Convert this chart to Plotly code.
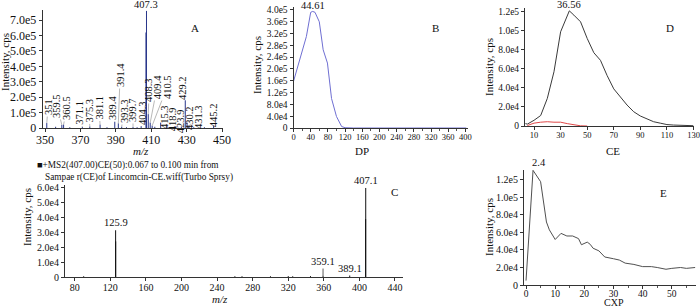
import plotly.graph_objects as go

W, H = 700, 307
FONT = "Liberation Serif, serif"

# ---------------- Panel A: full scan spectrum ----------------
a_mz = [351, 356, 359.5, 360.5, 364, 371.1, 375.3, 381.1, 385, 389.4, 391.4, 393.3, 396,
        399.7, 402, 404.3, 407.0, 407.3, 408.3, 409.4, 410.5, 412, 415.3, 418.9, 420,
        423.9, 427, 429.2, 430.2, 431.3, 434, 440, 445.2]
a_int = [0.32e5, 0.08e5, 0.2e5, 0.22e5, 0.05e5, 0.06e5, 0.1e5, 0.22e5, 0.05e5, 0.4e5, 0.3e5,
         0.08e5, 0.05e5, 0.06e5, 0.05e5, 0.12e5, 6.2e5, 7.6e5, 0.9e5, 0.35e5, 0.15e5, 0.08e5,
         0.35e5, 0.12e5, 0.05e5, 0.12e5, 0.1e5, 1.8e5, 0.35e5, 0.15e5, 0.05e5, 0.05e5, 0.15e5]
# labelled peaks: label, peak m/z, peak intensity, label-centre m/z, label-centre intensity
a_lbl = ["351", "359.5", "360.5", "371.1", "375.3", "381.1", "389.4", "391.4", "393.3",
         "399.7", "404.3", "408.3", "409.4", "410.5", "415.3", "418.9", "423.9", "429.2",
         "430.2", "431.3", "445.2"]
a_lbl_pk = [351, 359.5, 360.5, 371.1, 375.3, 381.1, 389.4, 391.4, 393.3, 399.7, 404.3,
            408.3, 409.4, 410.5, 415.3, 418.9, 423.9, 429.2, 430.2, 431.3, 445.2]
a_lbl_pky = [0.32e5, 0.2e5, 0.22e5, 0.06e5, 0.1e5, 0.22e5, 0.4e5, 0.3e5, 0.08e5, 0.06e5,
             0.12e5, 0.9e5, 0.35e5, 0.15e5, 0.35e5, 0.12e5, 0.12e5, 1.8e5, 0.35e5, 0.15e5,
             0.15e5]
a_lbl_x = [351.7, 356.8, 362.4, 369.8, 374.9, 380.5, 388.4, 392.4, 394.6, 399.7, 404.8,
           408.8, 413.3, 418.9, 417.2, 421.8, 426.3, 428.0, 431.9, 436.4, 444.9]
a_lbl_y = [1.36e5, 1.43e5, 1.3e5, 1.0e5, 1.14e5, 1.33e5, 1.3e5, 3.44e5, 1.1e5, 1.17e5,
           0.97e5, 2.47e5, 2.66e5, 2.66e5, 0.71e5, 0.58e5, 0.45e5, 2.6e5, 0.65e5, 0.71e5,
           0.84e5]
a_xticks = [350, 370, 390, 410, 430, 450]
a_yticks = [0, 1e5, 2e5, 3e5, 4e5, 5e5, 6e5, 7e5]
a_yticktext = ["0", "1.0e5", "2.0e5", "3.0e5", "4.0e5", "5.0e5", "6.0e5", "7.0e5"]

# ---------------- Panel B: DP ramp ----------------
b_dp = [0, 10, 18.6, 30, 40, 44.61, 50, 60, 69, 79, 88.5, 100, 112, 120, 140, 200, 260,
        320, 380, 402]
b_int = [1.58e5, 2.1e5, 2.54e5, 3.1e5, 3.92e5, 3.95e5, 3.92e5, 3.6e5, 2.65e5, 2.2e5, 1.0e5,
         0.39e5, 0.05e5, 0.01e5, 0.0, 0.0, 0.0, 0.0, 0.0, 0.0]
b_xticks = [0, 40, 80, 120, 160, 200, 240, 280, 320, 360, 400]
b_yticks = [0, 4e4, 8e4, 1.2e5, 1.6e5, 2.0e5, 2.4e5, 2.8e5, 3.2e5, 3.6e5, 4.0e5]
b_yticktext = ["0", "4.0e4", "8.0e4", "1.2e5", "1.6e5", "2.0e5", "2.4e5", "2.8e5", "3.2e5",
               "3.6e5", "4.0e5"]

# ---------------- Panel D: CE ramp ----------------
d_ce = [3.5, 5, 10, 15, 20, 25, 30, 36.56, 40, 45, 50, 55, 60, 65, 70, 75, 80, 85, 90, 95,
        100, 105, 110, 115, 120, 130]
d_int = [0.25e4, 0.2e4, 0.6e4, 1.1e4, 2.9e4, 5.7e4, 9.9e4, 1.21e5, 1.165e5, 1.095e5, 9.2e4,
         7.7e4, 6.9e4, 5.3e4, 3.9e4, 3.0e4, 2.2e4, 1.5e4, 1.05e4, 0.75e4, 0.45e4, 0.3e4,
         0.15e4, 0.1e4, 0.05e4, 0.03e4]
d_ce2 = [5, 10, 15, 20, 25, 30, 35, 40, 45, 50]
d_int2 = [0.05e4, 0.3e4, 0.4e4, 0.45e4, 0.4e4, 0.4e4, 0.25e4, 0.1e4, 0.02e4, 0.0]
d_xticks = [10, 30, 50, 70, 90, 110, 130]
d_yticks = [0, 2e4, 4e4, 6e4, 8e4, 1.0e5, 1.2e5]
d_yticktext = ["0", "2.0e4", "4.0e4", "6.0e4", "8.0e4", "1.0e5", "1.2e5"]

# ---------------- Panel C: product ion spectrum ----------------
c_mz = [90, 125.9, 126.0, 260, 268, 300, 320, 325, 345, 359.1, 389.1, 407.0, 407.1]
c_int = [0.05e4, 3.15e4, 2.4e4, 0.05e4, 0.05e4, 0.05e4, 0.06e4, 0.05e4, 0.06e4, 0.1e4,
         0.1e4, 3.9e4, 6.0e4]
c_xticks = [80, 120, 160, 200, 240, 280, 320, 360, 400, 440]
c_yticks = [0, 1e4, 2e4, 3e4, 4e4, 5e4, 6e4]
c_yticktext = ["0", "1.0e4", "2.0e4", "3.0e4", "4.0e4", "5.0e4", "6.0e4"]
c_title1 = "■+MS2(407.00)CE(50):0.067 to 0.100 min from"
c_title2 = "Sampae r(CE)of Lincomcin-CE.wiff(Turbo Sprsy)"

# ---------------- Panel E: CXP ramp ----------------
e_cxp = [0, 2.4, 5, 6, 7, 8, 10, 12, 14, 16, 18, 19, 21, 22, 23, 25, 27, 30, 32, 34, 37,
         40, 43, 45, 48, 50, 53, 55, 58]
e_int = [0.5e4, 1.31e5, 1.18e5, 0.95e5, 0.72e5, 0.63e5, 0.52e5, 0.59e5, 0.56e5, 0.56e5,
         0.53e5, 0.46e5, 0.49e5, 0.465e5, 0.42e5, 0.39e5, 0.32e5, 0.3e5, 0.285e5, 0.25e5,
         0.235e5, 0.21e5, 0.21e5, 0.2e5, 0.18e5, 0.19e5, 0.2e5, 0.19e5, 0.2e5]
e_xticks = [0, 10, 20, 30, 40, 50]
e_yticks = [0, 2e4, 4e4, 6e4, 8e4, 1.0e5, 1.2e5]
e_yticktext = ["0", "2.0e4", "4.0e4", "6.0e4", "8.0e4", "1.0e5", "1.2e5"]


def px_x(p):
    return p / W


def px_y(p):
    return 1 - p / H


def sticks(xs, ys):
    X, Y = [], []
    for x, y in zip(xs, ys):
        X += [x, x, None]
        Y += [0, y, None]
    return X, Y


fig = go.Figure()

ax_, ay_ = sticks(a_mz, a_int)
fig.add_trace(go.Scatter(x=ax_, y=ay_, mode="lines", line=dict(color="#27358a", width=1),
                         xaxis="x", yaxis="y", hoverinfo="skip"))
fig.add_trace(go.Scatter(x=b_dp, y=b_int, mode="lines", line=dict(color="#6f6fd2", width=1),
                         xaxis="x2", yaxis="y2"))
fig.add_trace(go.Scatter(x=d_ce, y=d_int, mode="lines", line=dict(color="#3a3a3a", width=1),
                         xaxis="x3", yaxis="y3"))
fig.add_trace(go.Scatter(x=d_ce2, y=d_int2, mode="lines", line=dict(color="#e04848", width=1),
                         xaxis="x3", yaxis="y3"))
cx_, cy_ = sticks(c_mz, c_int)
fig.add_trace(go.Scatter(x=cx_, y=cy_, mode="lines", line=dict(color="#111111", width=1),
                         xaxis="x4", yaxis="y4"))
fig.add_trace(go.Scatter(x=e_cxp, y=e_int, mode="lines", line=dict(color="#505050", width=1),
                         xaxis="x5", yaxis="y5"))


def axis(domain_px, rng, tickvals, ticktext=None, anchor=None, vertical=False, tsize=10.5,
         minor_dtick=None, standoff=-2):
    if vertical:
        dom = [px_y(domain_px[1]), px_y(domain_px[0])]
    else:
        dom = [px_x(domain_px[0]), px_x(domain_px[1])]
    d = dict(domain=dom, range=rng, tickvals=tickvals, showline=True, linecolor="#333",
             linewidth=1, ticks="outside", ticklen=3, tickcolor="#333", showgrid=False,
             zeroline=False, tickfont=dict(family=FONT, size=tsize, color="#111"),
             anchor=anchor, fixedrange=True, automargin=False)
    if not vertical:
        d["ticklabelstandoff"] = standoff
    if minor_dtick is not None:
        d["minor"] = dict(ticks="outside", ticklen=2, tickcolor="#555", dtick=minor_dtick,
                          tick0=0, showgrid=False)
    if ticktext is not None:
        d["ticktext"] = ticktext
    return d


fig.update_layout(
    width=W, height=H, margin=dict(l=0, r=0, t=0, b=0, autoexpand=False), showlegend=False,
    plot_bgcolor="white", paper_bgcolor="white",
    font=dict(family=FONT, size=10.5, color="#111"),
    xaxis=axis([42.7, 223], [348.7, 450.5], a_xticks, anchor="y", tsize=12),
    yaxis=axis([10, 128], [0, 7.66e5], a_yticks, a_yticktext, anchor="x", vertical=True, tsize=12),
    xaxis2=axis([293.5, 468], [0, 406], b_xticks, anchor="y2", tsize=8.5, minor_dtick=20),
    yaxis2=axis([7, 128], [0, 4.1e5], b_yticks, b_yticktext, anchor="x2", vertical=True, tsize=9.5),
    xaxis3=axis([525, 693.5], [3.2, 130], d_xticks, anchor="y3", tsize=8.5),
    yaxis3=axis([8, 126], [0, 1.24e5], d_yticks, d_yticktext, anchor="x3", vertical=True, tsize=9.5),
    xaxis4=axis([65, 403], [69, 449], c_xticks, anchor="y4", tsize=10),
    yaxis4=axis([185, 277], [0, 6.2e4], c_yticks, c_yticktext, anchor="x4", vertical=True, tsize=10),
    xaxis5=axis([524, 696], [-0.7, 58.3], e_xticks, anchor="y5", tsize=9.5, minor_dtick=5,
                standoff=-3),
    yaxis5=axis([170, 285], [0, 1.314e5], e_yticks, e_yticktext, anchor="x5", vertical=True, tsize=10),
)

ann = []
# Panel A labels
for t, px, py, lx, ly in zip(a_lbl, a_lbl_pk, a_lbl_pky, a_lbl_x, a_lbl_y):
    ann.append(dict(text=t, x=px, y=py, xref="x", yref="y", ax=lx, ay=ly, axref="x",
                    ayref="y", textangle=-90, showarrow=True, arrowhead=0, arrowwidth=0.6,
                    arrowcolor="#888", standoff=0, font=dict(size=10.5)))
ann.append(dict(text="407.3", x=407.3, y=7.6e5, xref="x", yref="y", showarrow=False,
                yanchor="bottom", yshift=-1, font=dict(size=10.5)))
# Panel peak labels
ann.append(dict(text="44.61", x=44.61, y=3.95e5, xref="x2", yref="y2", showarrow=False,
                yanchor="bottom", yshift=-2))
ann.append(dict(text="36.56", x=36.56, y=1.21e5, xref="x3", yref="y3", showarrow=False,
                yanchor="bottom", yshift=-1))
ann.append(dict(text="125.9", x=125.9, y=3.15e4, xref="x4", yref="y4", showarrow=False,
                yanchor="bottom"))
ann.append(dict(text="407.1", x=407.1, y=6.0e4, xref="x4", yref="y4", showarrow=False,
                yanchor="bottom"))
ann.append(dict(text="359.1", x=359.1, y=0.1e4, xref="x4", yref="y4", ax=0, ay=-14,
                showarrow=True, arrowhead=0, arrowwidth=0.8, arrowcolor="#333", standoff=0))
ann.append(dict(text="389.1", x=389.1, y=0.1e4, xref="x4", yref="y4", showarrow=False,
                yanchor="bottom"))
ann.append(dict(text="2.4", x=2.4, y=1.31e5, xref="x5", yref="y5", showarrow=False,
                yanchor="bottom", xanchor="left", xshift=-3))

# Panel letters, axis titles (paper coordinates from pixel positions)
def ptxt(t, x, y, **kw):
    d = dict(text=t, x=px_x(x), y=px_y(y), xref="paper", yref="paper", showarrow=False,
             xanchor="center", yanchor="middle")
    d.update(kw)
    ann.append(d)

for t, x, y in [("A", 195, 28), ("B", 435, 28), ("D", 670, 28), ("C", 394, 192), ("E", 663, 193)]:
    ptxt(t, x, y, font=dict(size=11))
ptxt("<i>m/z</i>", 141, 151, font=dict(size=11))
ptxt("DP", 362, 151, font=dict(size=11))
ptxt("CE", 613, 151, font=dict(size=11))
ptxt("<i>m/z</i>", 220, 299, font=dict(size=11))
ptxt("CXP", 614, 302, font=dict(size=10), yanchor="middle")
for x, y in [(5, 62), (257, 65), (489, 67), (27, 217), (489, 227)]:
    ptxt("Intensity, cps", x, y, textangle=-90, font=dict(size=11))
ptxt(c_title1, 35, 165, xanchor="left", font=dict(size=9.3))
ptxt(c_title2, 43, 177, xanchor="left", font=dict(size=9.3))

fig.update_layout(annotations=ann)
fig.write_html("out.html", config={"displayModeBar": False},
               post_script="document.body.style.margin='0';document.body.style.overflow='hidden';")
